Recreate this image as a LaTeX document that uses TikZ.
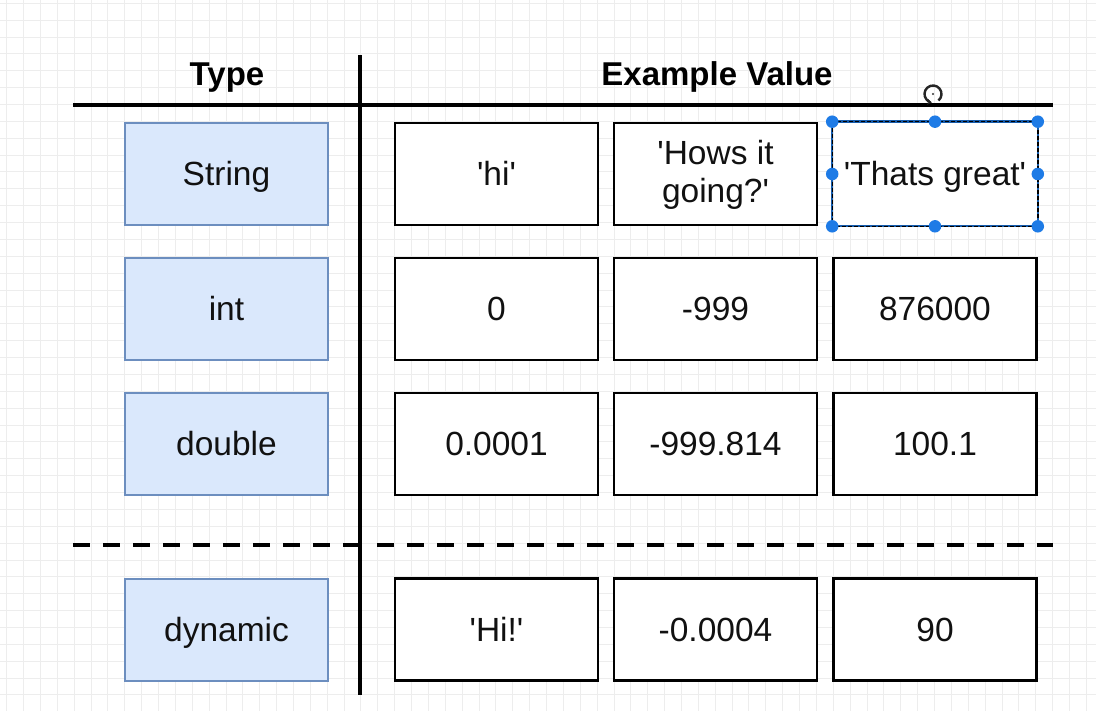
\documentclass[tikz,border=0pt]{standalone}
\usepackage{fontspec}
\setmainfont{Liberation Sans}
\usetikzlibrary{arrows.meta,calc}
\definecolor{gridc}{HTML}{EDEDED}
\definecolor{bluefill}{HTML}{DAE8FC}
\definecolor{blueline}{HTML}{6C8EBF}
\definecolor{handle}{HTML}{1E7BE6}
\definecolor{txt}{HTML}{111111}
\newcommand{\sq}{\textquotesingle}
\begin{document}
\begin{tikzpicture}[x=1pt,y=-1pt,
  boxbase/.style={minimum width=203pt,minimum height=102pt,inner sep=0pt,font=\fontsize{33.5}{38}\selectfont,text=txt,align=center},
  oneline/.style={text height=24pt,text depth=0pt},
  typebox/.style={boxbase,oneline,draw=blueline,fill=bluefill,line width=2pt},
  valbox/.style={boxbase,draw=black,fill=white,line width=2.6pt},
  header/.style={font=\bfseries\fontsize{33}{38}\selectfont,text=black,text height=24pt,text depth=0pt},
  rule/.style={line width=4pt,black},
  dashrule/.style={line width=4pt,black,dash pattern=on 17pt off 13pt},
  handledot/.style={circle,fill=handle,inner sep=0pt,minimum size=12.5pt}]
\useasboundingbox (0,0) rectangle (1096,711);
\fill[white] (0,0) rectangle (1096,711);
% grid
\foreach \i in {0,...,64} {\draw[gridc,line width=1pt] ({6.7+16.87*\i},0) -- ({6.7+16.87*\i},711);}
\foreach \j in {0,...,42} {\draw[gridc,line width=1pt] (0,{3.3+16.87*\j}) -- (1096,{3.3+16.87*\j});}
% headers
\node[header] (htype) at (227,74) {Type};
\node[header] (hval) at (717,74) {Example Value};
% rules
\coordinate (hl) at (73,105); \coordinate (hr) at (1053,105);
\coordinate (vt) at (360,55); \coordinate (vb) at (360,695);
\coordinate (dl) at (73,545); \coordinate (dm) at (360,545);
\coordinate (dm2) at (377,545); \coordinate (dr) at (1053,545);
\draw[rule] (hl) -- (hr);
\draw[dashrule] (dl) -- (dm);
\draw[dashrule] (dm2) -- (dr);
\draw[rule] (vt) -- (vb);
% type boxes
\node[typebox] (tstr) at (226.5,174) {String};
\node[typebox] (tint) at (226.5,309) {int};
\node[typebox] (tdbl) at (226.5,444) {double};
\node[typebox] (tdyn) at (226.5,629.5) {dynamic};
% value boxes
\node[valbox,oneline] (s1) at (496.5,174) {\sq hi\sq};
\node[valbox] (s2) at (715.5,174) {}; 
\node[font=\fontsize{33.5}{38}\selectfont,text=txt,align=center,inner sep=0pt] (s2t) at (715.5,175) {\sq Hows it\\going?\sq};
\node[valbox,oneline,draw=none] (s3) at (935,174) {\sq Thats great\sq};
\node[valbox,oneline] (i1) at (496.5,309) {0};
\node[valbox,oneline] (i2) at (715.5,309) {-999};
\node[valbox,oneline] (i3) at (935,309) {876000};
\node[valbox,oneline] (d1) at (496.5,444) {0.0001};
\node[valbox,oneline] (d2) at (715.5,444) {-999.814};
\node[valbox,oneline] (d3) at (935,444) {100.1};
\node[valbox,oneline] (y1) at (496.5,629.5) {\sq Hi!\sq};
\node[valbox,oneline] (y2) at (715.5,629.5) {-0.0004};
\node[valbox,oneline] (y3) at (935,629.5) {90};
% selection on s3
\draw[handle!75!black,line width=2.4pt] (s3.north west) rectangle (s3.south east);
\draw[black,line width=1.4pt,dash pattern=on 4pt off 2pt] (s3.north west) rectangle (s3.south east);
\foreach \a in {north west,north,north east,east,south east,south,south west,west}
  {\node[handledot] at (s3.\a) {};}
% rotate icon
\coordinate (rot) at (933,94);
\fill[black!80] (rot) circle (1.2pt);
\draw[black!85,line width=2.4pt,-{Stealth[length=4.5pt,width=6pt]}] ($(rot)+(50:8.5)$) arc[start angle=50,end angle=-262,radius=8.5];
\end{tikzpicture}
\end{document}
